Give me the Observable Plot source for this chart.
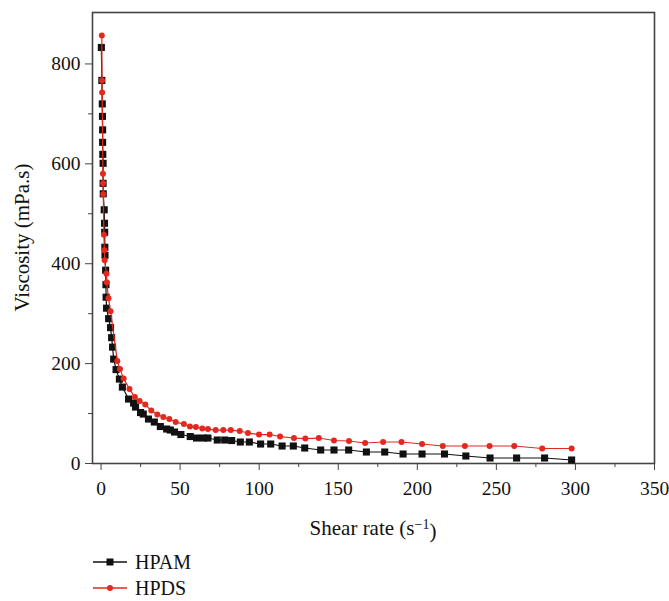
<!DOCTYPE html>
<html><head><meta charset="utf-8">
<script src="https://cdn.jsdelivr.net/npm/d3@7"></script>
<script src="https://cdn.jsdelivr.net/npm/@observablehq/plot@0.6"></script>
<style>
body{margin:0;background:#fff;font-family:"Liberation Serif","Times New Roman",serif;}
#legend{padding-top:4px;}
.item{display:flex;align-items:center;height:26px;margin-left:93px;font-size:20px;color:#111;}
.item svg{margin-right:8px;}
</style></head><body>
<div id="chart"></div>
<div id="legend"></div>
<script>
// Series names
const seriesNames = ["HPAM", "HPDS"];
const seriesColors = ["#111111", "#e3281e"];

// HPAM: shear rate (1/s) and viscosity (mPa.s)
const hpamRate = [0.2,0.5,0.8,0.9,1.0,1.0,1.1,1.3,1.3,1.4,2.0,2.2,2.3,2.4,2.5,2.9,3.1,3.2,3.5,4.8,6.0,6.7,7.3,8.0,9.5,11.6,13.5,17.4,20.6,21.8,25.0,26.7,30.0,33.7,37.5,41.5,43.8,46.5,50.5,56.4,60.4,64.7,67.6,73.5,78.2,82.6,88.1,93.8,100.9,107.3,114.5,121.6,128.8,138.9,147.3,156.6,167.8,179.4,191.0,203.0,217.2,230.7,246.0,262.8,280.5,297.6];
const hpamVisc = [833,767,720,695,668,643,619,601,561,540,508,481,463,433,417,387,358,333,311,290,272,252,233,209,188,169,153,129,121,113,102,99,89,83,74,69,67,63,58,54,51,51,51,47,47,46,43,43,39,39,35,35,31,27,27,27,23,23,19,19,19,15,11,11,11,7];

// HPDS: shear rate (1/s) and viscosity (mPa.s)
const hpdsRate = [0.5,0.6,0.7,1.2,1.3,1.4,1.8,2.1,2.3,3.4,3.6,4.7,6.0,10.3,12.0,14.3,18.0,21.4,24.4,28.0,31.8,35.6,39.4,43.2,47.2,52.4,56.2,60.0,64.0,67.6,72.5,77.3,82.0,87.7,92.9,99.9,106.6,113.2,122.0,129.2,137.7,147.3,156.8,167.0,178.4,190.0,203.0,216.1,230.1,245.7,261.3,279.0,297.6];
const hpdsVisc = [857,767,743,580,561,539,458,427,407,380,363,331,305,205,189,170,149,133,125,118,106,98,93,89,83,79,74,73,70,69,67,67,67,65,61,58,58,54,51,50,51,46,45,41,43,43,39,35,35,35,35,30,30];

// Axis ticks
const xTicks = [0,50,100,150,200,250,300,350];
const xMinor = [25,75,125,175,225,275,325];
const yTicks = [0,200,400,600,800];
const yMinor = [100,300,500,700];
const xLabel = "Shear rate (s";
const xLabelSup = "−1";
const yLabel = "Viscosity (mPa.s)";

const hpam = hpamRate.map((r,i)=>({rate:r, visc:hpamVisc[i]}));
const hpds = hpdsRate.map((r,i)=>({rate:r, visc:hpdsVisc[i]}));

const W = 669, H = 545;
const font = '"Liberation Serif","Times New Roman",serif';

const chart = Plot.plot({
  width: W, height: H,
  marginLeft: 92, marginRight: 15, marginTop: 12, marginBottom: 82,
  style: {fontFamily: font, fontSize: "19.5px", color: "#111", background: "#fff"},
  x: {domain: [-5.4, 350], label: null},
  y: {domain: [0, 903], label: null},
  marks: [
    Plot.axisX({ticks: xTicks, tickSize: 7, tickPadding: 11, fontSize: 19.5, label: null, stroke: "#444"}),
    Plot.axisX({ticks: xMinor, tickSize: 4, text: null, label: null, stroke: "#444"}),
    Plot.axisY({ticks: yTicks, tickSize: 7, tickPadding: 5, fontSize: 19.5, label: null, stroke: "#444"}),
    Plot.axisY({ticks: yMinor, tickSize: 4, text: null, label: null, stroke: "#444"}),
    Plot.frame({stroke: "#444", strokeWidth: 1.6}),
    Plot.line(hpam, {x: "rate", y: "visc", stroke: seriesColors[0], strokeWidth: 1.2}),
    Plot.dot(hpam, {x: "rate", y: "visc", symbol: "square", r: 4, fill: seriesColors[0], stroke: "none"}),
    Plot.line(hpds, {x: "rate", y: "visc", stroke: seriesColors[1], strokeWidth: 1.2}),
    Plot.dot(hpds, {x: "rate", y: "visc", symbol: "circle", r: 3, fill: seriesColors[1], stroke: "none"})
  ]
});
document.getElementById("chart").appendChild(chart);

// Axis titles
const svg = d3.select(chart);
const xt = svg.append("text")
  .attr("x", (92 + (W - 15)) / 2).attr("y", 535)
  .attr("text-anchor", "middle")
  .attr("font-family", font).attr("font-size", 21).attr("fill", "#111")
  .text(xLabel);
xt.append("tspan").attr("dy", "-0.45em").attr("font-size", 14).text(xLabelSup);
xt.append("tspan").attr("dy", "0.45em").text(")");

svg.append("text")
  .attr("transform", `translate(29, ${(12 + 463) / 2}) rotate(-90)`)
  .attr("text-anchor", "middle")
  .attr("font-family", font).attr("font-size", 21).attr("fill", "#111")
  .text(yLabel);

// Legend
const legend = d3.select("#legend");
seriesNames.forEach((name, i) => {
  const item = legend.append("div").attr("class", "item");
  const s = item.append("svg").attr("width", 34).attr("height", 14);
  s.append("line").attr("x1", 0).attr("x2", 34).attr("y1", 7).attr("y2", 7)
    .attr("stroke", seriesColors[i]).attr("stroke-width", 1.3);
  if (i === 0) s.append("rect").attr("x", 13.5).attr("y", 3.5).attr("width", 7).attr("height", 7).attr("fill", seriesColors[i]);
  else s.append("circle").attr("cx", 17).attr("cy", 7).attr("r", 3).attr("fill", seriesColors[i]);
  item.append("span").text(name);
});
</script>
</body></html>
